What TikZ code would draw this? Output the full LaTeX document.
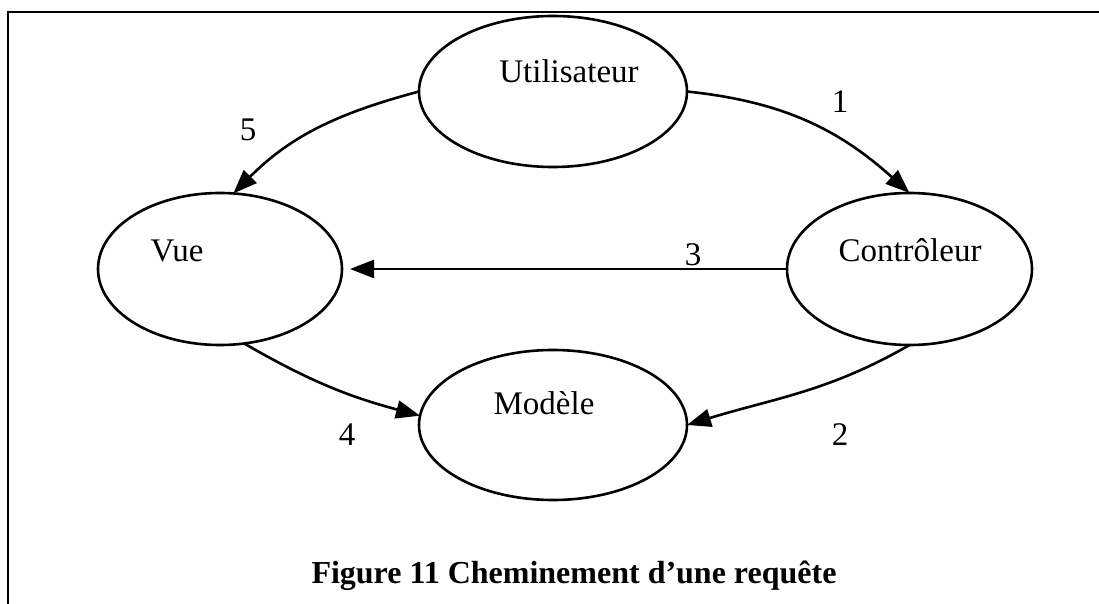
\documentclass[tikz,border=0pt]{standalone}
\usepackage{fontspec}
\setmainfont{Liberation Serif}
\usetikzlibrary{shapes.geometric,arrows.meta}

\begin{document}
\begin{tikzpicture}[x=0.5pt,y=-0.5pt,
  etat/.style={draw,ellipse,line width=1.3pt,inner sep=0pt,outer sep=0pt},
  fleche/.style={line width=1.3pt,-{Triangle[length=12pt,width=9pt]}},
  txt/.style={font=\fontsize{16.5}{20}\selectfont,anchor=base,inner sep=0pt},
  num/.style={font=\fontsize{16.5}{20}\selectfont,inner sep=0pt}]
  \useasboundingbox (0,0) rectangle (1099,604);
  \draw[line width=0.85pt] (8,604) -- (8,12) -- (1099,12);
  % les quatre etats
  \node[etat,minimum width=134pt,minimum height=75.5pt] (utilisateur) at (553,91.5) {};
  \node[etat,minimum width=122pt,minimum height=76pt] (vue) at (220,269) {};
  \node[etat,minimum width=122.5pt,minimum height=76pt] (controleur) at (909.5,269) {};
  \node[etat,minimum width=134pt,minimum height=75pt] (modele) at (553,425) {};
  \node[txt] (tutilisateur) at (569,83) {Utilisateur};
  \node[txt] (tvue) at (177,262) {Vue};
  \node[txt] (tcontroleur) at (910,262) {Contrôleur};
  \node[txt] (tmodele) at (544,415) {Modèle};
  % cheminement
  \path[fleche]
    (utilisateur.east) edge[out=-6,in=138] (controleur.north)
    (controleur.south) edge[out=210,in=17] (modele.east)
    (controleur.west) edge[shorten >=4pt] (vue.east)
    (vue.-72) edge[out=-30,in=165] (modele.176)
    (utilisateur.west) edge[out=195,in=45] (vue.80);
  \node[num] (n1) at (840,102) {1};
  \node[num] (n2) at (840,435) {2};
  \node[num] (n3) at (693,255) {3};
  \node[num] (n4) at (347,435) {4};
  \node[num] (n5) at (248,130) {5};
  \node[txt,font=\fontsize{16}{20}\selectfont\bfseries] (legende) at (574,583) {Figure 11 Cheminement d’une requête};
\end{tikzpicture}
\end{document}
